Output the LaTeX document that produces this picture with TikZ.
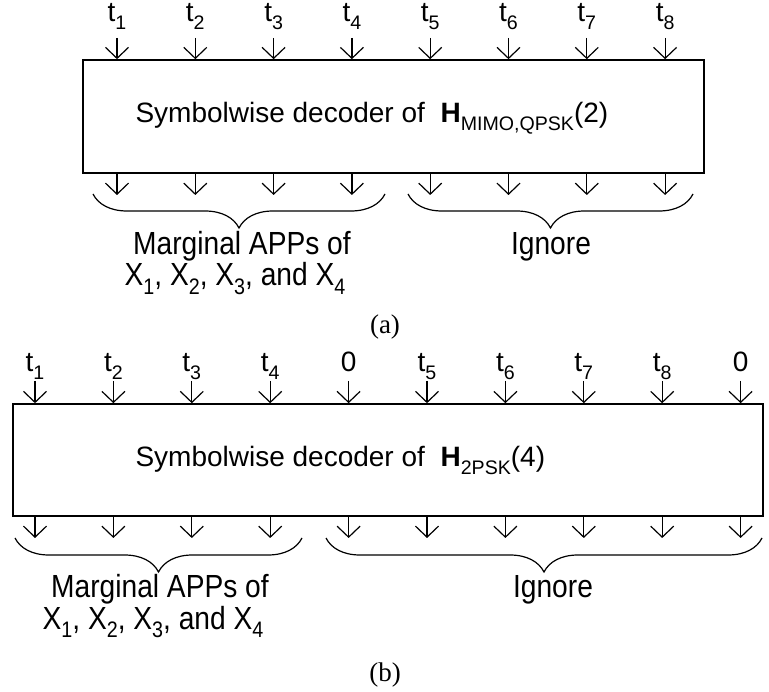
\documentclass[tikz,border=0pt]{standalone}
\usepackage{graphicx}
\usepackage{fontspec}
\setmainfont{Liberation Sans}
\newfontfamily\capfont{Liberation Serif}
\newfontfamily\narrowfont[FakeStretch=0.88]{Liberation Sans}
\usetikzlibrary{arrows.meta,decorations.pathreplacing}
\newcommand\colSep{78.3}
\newcommand\firstColA{117}
\newcommand\firstColB{35}
\newcommand\arrLen{22}
\newcommand\lowsub[1]{\raisebox{-0.27em}{\scalebox{0.7}{#1}}}
\tikzset{
  inarrow/.style={line width=1.2pt, -{Straight Barb[length=11pt,width=23pt,line width=1.2pt]}},
  decbox/.style={draw, line width=1.6pt, inner sep=0pt},
  brc/.style={decorate, decoration={brace, mirror, amplitude=34pt}, line width=1.2pt},
  tlab/.style={anchor=base, font=\fontsize{28}{32}\selectfont},
  dectext/.style={anchor=base west, font=\fontsize{28}{32}\selectfont},
  outtext/.style={anchor=base, font=\narrowfont\fontsize{32}{36}\selectfont},
  captext/.style={anchor=base, font=\capfont\fontsize{27}{30}\selectfont}
}

\begin{document}
\begin{tikzpicture}[x=1pt,y=-1pt]
    \useasboundingbox (0,0) rectangle (769,692);

    %% (a) decoder of H_MIMO,QPSK(2)
    \node[decbox, minimum width=621pt, minimum height=113pt] (decA) at (393.5,116.5) {};
    \node[dectext] (txtA) at (132,123) {Symbolwise decoder of\ \ \textbf{H}\lowsub{MIMO,QPSK}(2)};

    \foreach \k in {1,...,8}{
      \pgfmathsetmacro\xx{\firstColA+\colSep*(\k-1)}
      \node[tlab] (tA\k) at (\xx,22) {t\lowsub{\k}};
      \coordinate (sA\k) at (\xx,38);
      \coordinate (oA\k) at (\xx,173+\arrLen);
      \draw[inarrow] (sA\k) -- (sA\k |- decA.north);
      \draw[inarrow] (oA\k |- decA.south) -- (oA\k);
    }

    %% braces under the outputs
    \coordinate (bA1) at (93,194);
    \coordinate (bA2) at (385,194);
    \coordinate (bA3) at (408,194);
    \coordinate (bA4) at (693,194);
    \draw[brc] (bA1) -- (bA2);
    \draw[brc] (bA3) -- (bA4);
    \node[outtext] (margA) at (242,255) {Marginal APPs of};
    \node[outtext] (varsA) at (235,286) {X\lowsub{1}, X\lowsub{2}, X\lowsub{3}, and X\lowsub{4}};
    \node[outtext] (ignA) at (551,255) {Ignore};
    \node[captext] (capA) at (385,334) {(a)};

    %% (b) decoder of H_2PSK(4)
    \node[decbox, minimum width=750pt, minimum height=112pt] (decB) at (388,460) {};
    \node[dectext] (txtB) at (132,467) {Symbolwise decoder of\ \ \textbf{H}\lowsub{2PSK}(4)};

    \foreach \k/\lab in {1/t\lowsub{1},2/t\lowsub{2},3/t\lowsub{3},4/t\lowsub{4},5/0,6/t\lowsub{5},7/t\lowsub{6},8/t\lowsub{7},9/t\lowsub{8},10/0}{
      \pgfmathsetmacro\xx{\firstColB+78.4*(\k-1)}
      \node[tlab] (tB\k) at (\xx,372) {\lab};
      \coordinate (sB\k) at (\xx,381);
      \coordinate (oB\k) at (\xx,516+\arrLen);
      \draw[inarrow] (sB\k) -- (sB\k |- decB.north);
      \draw[inarrow] (oB\k |- decB.south) -- (oB\k);
    }

    %% braces under the outputs
    \coordinate (bB1) at (15,538);
    \coordinate (bB2) at (302,538);
    \coordinate (bB3) at (326,538);
    \coordinate (bB4) at (762,538);
    \draw[brc] (bB1) -- (bB2);
    \draw[brc] (bB3) -- (bB4);
    \node[outtext] (margB) at (160,597) {Marginal APPs of};
    \node[outtext] (varsB) at (153,629) {X\lowsub{1}, X\lowsub{2}, X\lowsub{3}, and X\lowsub{4}};
    \node[outtext] (ignB) at (553,597) {Ignore};
    \node[captext] (capB) at (385,681) {(b)};
\end{tikzpicture}
\end{document}
